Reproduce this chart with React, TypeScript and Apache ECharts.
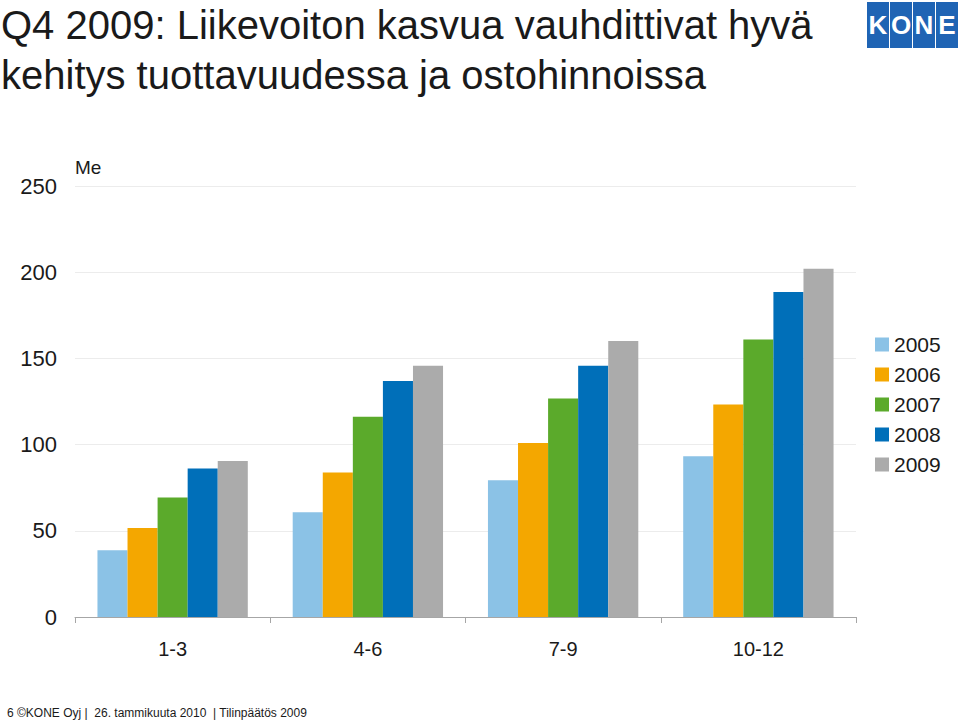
import React, { useEffect, useRef } from "react";
import * as echarts from "echarts";

const categories = ["1-3", "4-6", "7-9", "10-12"];
const years = ["2005", "2006", "2007", "2008", "2009"];
const values2005 = [38.7, 60.7, 79.3, 93.2];
const values2006 = [51.6, 83.8, 100.9, 123.2];
const values2007 = [69.3, 116.2, 126.7, 160.9];
const values2008 = [86.1, 136.9, 145.8, 188.5];
const values2009 = [90.5, 145.8, 160.1, 202.0];
const seriesValues = [values2005, values2006, values2007, values2008, values2009];
const colors = ["#8BC2E6", "#F4A700", "#5BAA2B", "#006FB9", "#ABABAB"];
const yTicks = [0, 50, 100, 150, 200, 250];

const FONT = "'Liberation Sans', Arial, Helvetica, sans-serif";

export default function App() {
  const ref = useRef<HTMLDivElement>(null);
  useEffect(() => {
    if (!ref.current) return;
    const chart = echarts.init(ref.current, undefined, { renderer: "svg" });
    const logoLetters = ["K", "O", "N", "E"];
    const logoX = [867, 890, 913, 936];
    chart.setOption({
      animation: false,
      backgroundColor: "#ffffff",
      textStyle: { fontFamily: FONT },
      grid: { left: 75, right: 104, top: 186, bottom: 104, containLabel: false },
      legend: {
        orient: "vertical",
        left: 870,
        top: 329,
        icon: "rect",
        itemWidth: 14,
        itemHeight: 14,
        itemGap: 9,
        data: years,
        textStyle: { fontSize: 21, color: "#1a1a1a", fontFamily: FONT },
      },
      xAxis: {
        type: "category",
        data: categories,
        axisLine: { lineStyle: { color: "#a6a6a6", width: 1 } },
        axisTick: { show: true, length: 6, lineStyle: { color: "#a6a6a6" } },
        axisLabel: { fontSize: 20, color: "#1a1a1a", margin: 22, fontFamily: FONT },
      },
      yAxis: {
        type: "value",
        min: 0,
        max: 250,
        interval: 50,
        axisLine: { show: false },
        axisTick: { show: false },
        splitLine: { lineStyle: { color: "#ececec", width: 1 } },
        axisLabel: {
          fontSize: 22,
          color: "#1a1a1a",
          margin: 18,
          fontFamily: FONT,
          formatter: (v: number) => (yTicks.includes(v) ? String(v) : ""),
        },
      },
      series: years.map((y, i) => ({
        name: y,
        type: "bar",
        data: seriesValues[i],
        barGap: "0%",
        barCategoryGap: "23%",
        itemStyle: { color: colors[i] },
      })),
      graphic: [
        {
          type: "text",
          left: 1,
          top: 0,
          style: {
            text: "Q4 2009: Liikevoiton kasvua vauhdittivat hyvä\nkehitys tuottavuudessa ja ostohinnoissa",
            font: `40px ${FONT}`,
            fill: "#1a1a1a",
            lineHeight: 50,
          },
        },
        {
          type: "text",
          left: 75,
          top: 158,
          style: { text: "Me", font: `19px ${FONT}`, fill: "#1a1a1a" },
        },
        {
          type: "text",
          left: 7,
          top: 707,
          style: {
            text: "6 ©KONE Oyj |  26. tammikuuta 2010  | Tilinpäätös 2009",
            font: `12px ${FONT}`,
            fill: "#1a1a1a",
          },
        },
        ...logoX.map((x, i) => ({
          type: "group",
          children: [
            { type: "rect", shape: { x, y: 2, width: 22, height: 46 }, style: { fill: "#1F64B4" } },
            {
              type: "text",
              x: x + 11,
              y: 25,
              style: {
                text: logoLetters[i],
                font: `bold 26px ${FONT}`,
                fill: "#ffffff",
                align: "center",
                verticalAlign: "middle",
              },
            },
          ],
        })),
      ],
    });
    return () => chart.dispose();
  }, []);
  return (
    <div
      ref={ref}
      style={{ position: "fixed", left: 0, top: 0, width: 960, height: 721 }}
    />
  );
}
